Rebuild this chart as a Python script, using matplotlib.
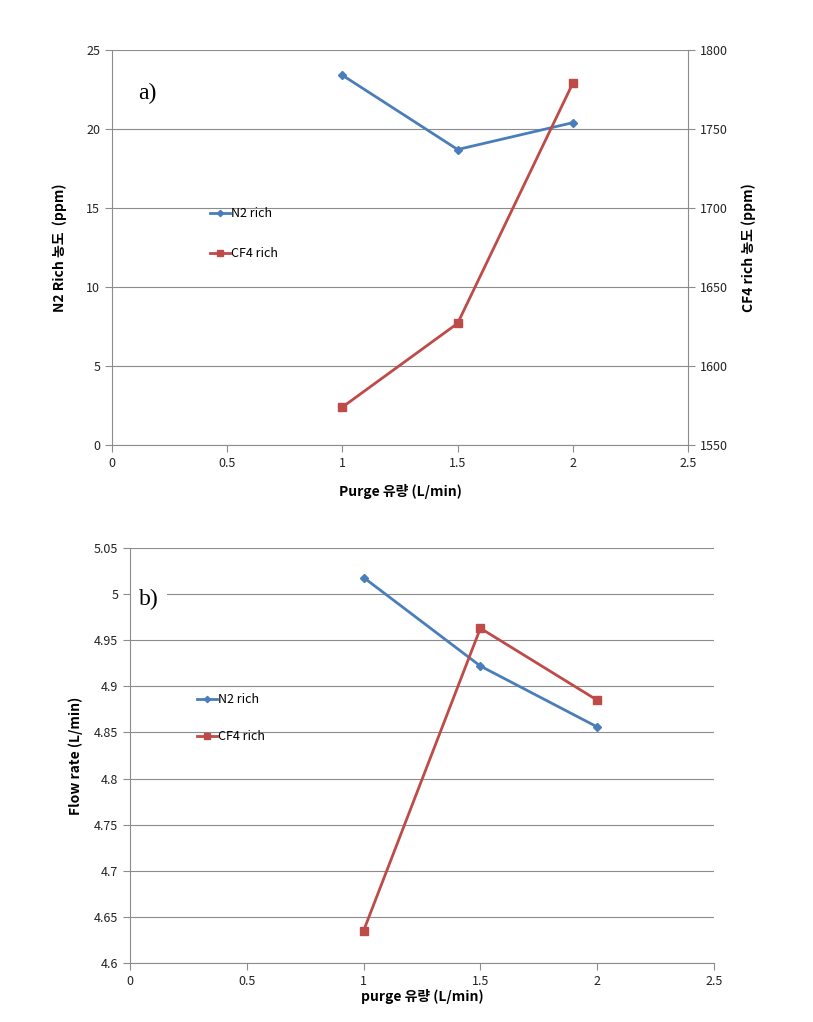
import numpy as np
import matplotlib.pyplot as plt

# ---------------------------------------------------------------------
# DATA
# ---------------------------------------------------------------------
purge = [1.0, 1.5, 2.0]

# a) concentration
n2_ppm = [23.4, 18.7, 20.4]
cf4_ppm = [1574, 1627, 1779]

# b) flow rate
n2_flow = [5.018, 4.922, 4.856]
cf4_flow = [4.635, 4.963, 4.885]

x_ticks = [0, 0.5, 1, 1.5, 2, 2.5]
x_ticklabels = ["0", "0.5", "1", "1.5", "2", "2.5"]
ya_ticks = [0, 5, 10, 15, 20, 25]
ya2_ticks = [1550, 1600, 1650, 1700, 1750, 1800]
yb_ticks = [4.6, 4.65, 4.7, 4.75, 4.8, 4.85, 4.9, 4.95, 5.0, 5.05]
yb_ticklabels = ["4.6", "4.65", "4.7", "4.75", "4.8", "4.85", "4.9", "4.95", "5", "5.05"]

# ---------------------------------------------------------------------
# STYLE
# ---------------------------------------------------------------------
plt.rcParams['font.family'] = ['Noto Sans CJK KR', 'DejaVu Sans']
BLUE = "#4A7EBB"
RED = "#BE4B48"
GRID = "#8c8c8c"
TICK_FS = 9
LABEL_FS = 10


def style_axis(ax, right=False):
    for s in ["top", "right"]:
        ax.spines[s].set_visible(False)
    for s in ["left", "bottom"]:
        ax.spines[s].set_color(GRID)
        ax.spines[s].set_linewidth(0.8)
    ax.tick_params(axis="both", direction="out", length=5, width=0.8,
                   color=GRID, labelsize=TICK_FS, labelcolor="#222222")
    ax.yaxis.grid(True, color=GRID, linewidth=0.8)
    ax.set_axisbelow(True)


fig = plt.figure(figsize=(8.13, 10.22), dpi=100)

# ---------------------------------------------------------------------
# a) concentration
# ---------------------------------------------------------------------
ax1 = fig.add_axes([0.1378, 0.5646, 0.7085, 0.3865])
style_axis(ax1)
ax1.set_xlim(0, 2.5)
ax1.set_ylim(0, 25)
ax1.set_xticks(x_ticks)
ax1.set_xticklabels(x_ticklabels)
ax1.set_yticks(ya_ticks)
l1, = ax1.plot(purge, n2_ppm, color=BLUE, lw=2, marker="D", ms=4,
               label="N2 rich", zorder=3)

ax1b = ax1.twinx()
for s in ["top", "left", "bottom"]:
    ax1b.spines[s].set_visible(False)
ax1b.spines["right"].set_color(GRID)
ax1b.spines["right"].set_linewidth(0.8)
ax1b.set_ylim(1550, 1800)
ax1b.set_yticks(ya2_ticks)
ax1b.tick_params(axis="y", direction="out", length=5, width=0.8,
                 color=GRID, labelsize=TICK_FS, labelcolor="#222222")
l2, = ax1b.plot(purge, cf4_ppm, color=RED, lw=2, marker="s", ms=6,
                label="CF4 rich", zorder=3)

ax1.set_xlabel("Purge 유량 (L/min)", fontsize=LABEL_FS, fontweight="bold",
               labelpad=10)
ax1.set_ylabel("N2 Rich 농도  (ppm)", fontsize=LABEL_FS, fontweight="bold",
               labelpad=14)
ax1b.set_ylabel("CF4 rich 농도 (ppm)", fontsize=LABEL_FS, fontweight="bold",
                labelpad=10)
ax1.text(0.045, 0.89, "a)", transform=ax1.transAxes, fontsize=17,
         family="Liberation Serif", va="center")
ax1.legend(handles=[l1, l2], loc="center left",
           bbox_to_anchor=(0.15, 0.535), frameon=False, fontsize=TICK_FS,
           handlelength=1.6, handletextpad=0.1, labelspacing=2.2,
           markerscale=0.8)

# ---------------------------------------------------------------------
# b) flow rate
# ---------------------------------------------------------------------
ax2 = fig.add_axes([0.1599, 0.0577, 0.7183, 0.4061])
style_axis(ax2)
ax2.set_xlim(0, 2.5)
ax2.set_ylim(4.6, 5.05)
ax2.set_xticks(x_ticks)
ax2.set_xticklabels(x_ticklabels)
ax2.set_yticks(yb_ticks)
ax2.set_yticklabels(yb_ticklabels)
m1, = ax2.plot(purge, n2_flow, color=BLUE, lw=2, marker="D", ms=4,
               label="N2 rich", zorder=3)
m2, = ax2.plot(purge, cf4_flow, color=RED, lw=2, marker="s", ms=6,
               label="CF4 rich", zorder=3)
ax2.set_xlabel("purge 유량 (L/min)", fontsize=LABEL_FS, fontweight="bold",
               labelpad=1)
ax2.set_ylabel("Flow rate (L/min)", fontsize=LABEL_FS, fontweight="bold",
               labelpad=8)
# white box hides the gridline behind the label but stays under the spine
ax2.text(0.015, 0.875, "b)", transform=ax2.transAxes, fontsize=17,
         family="Liberation Serif", va="center", zorder=2,
         bbox=dict(facecolor="white", edgecolor="none", pad=6))
ax2.legend(handles=[m1, m2], loc="center left",
           bbox_to_anchor=(0.095, 0.59), frameon=False, fontsize=TICK_FS,
           handlelength=1.6, handletextpad=0.1, labelspacing=1.9,
           markerscale=0.8)

fig.savefig("out.png", dpi=100)
